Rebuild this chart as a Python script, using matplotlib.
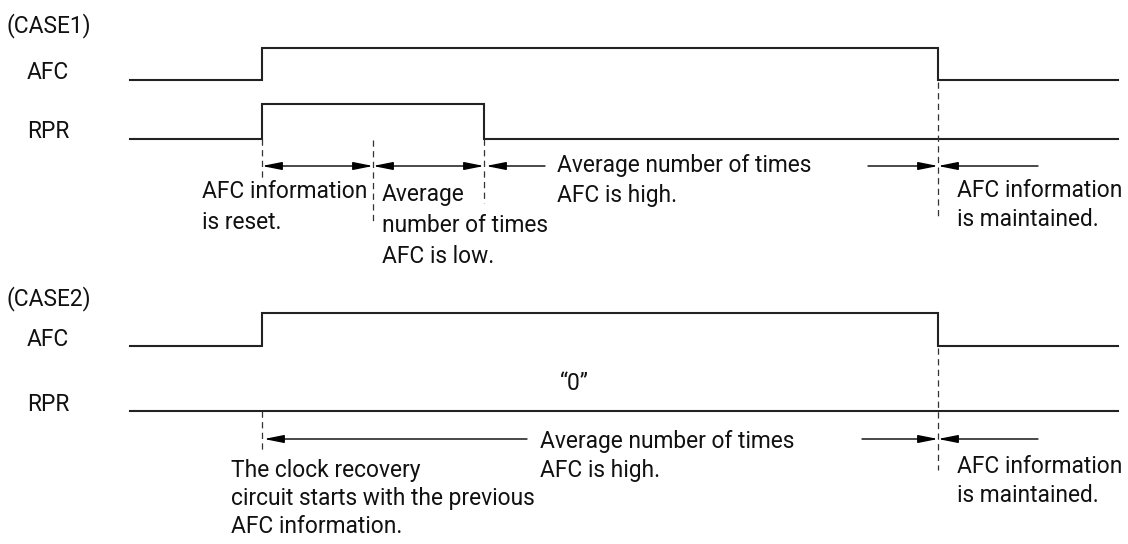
import matplotlib.pyplot as plt

plt.rcParams['font.family'] = ['Roboto', 'DejaVu Sans']

# time axis (pixel units of the drawing)
t_start, t_end = 130, 1118

# case 1 waveforms: transition times, low/high levels
afc1_edges = [262, 938]
afc1_low, afc1_high = 80, 48
rpr1_edges = [262, 484]
rpr1_low, rpr1_high = 139, 104

# case 2 waveforms
afc2_edges = [262, 938]
afc2_low, afc2_high = 346, 313
rpr2_edges = []
rpr2_low = 411

# dashed markers: (x, y0, y1)
markers = [(262, 139, 180), (373, 140, 222), (484, 139, 203), (938, 82, 220),
           (262, 411, 453), (938, 348, 470)]

# arrows: (x_from, x_to, y, style)
arrows = [(262, 373, 166, '<|-|>'), (373, 484, 166, '<|-|>'),
          (545, 486, 166, '-|>'), (868, 938, 166, '-|>'), (1038, 938, 166, '-|>'),
          (527, 264, 439, '-|>'), (862, 938, 439, '-|>'), (1038, 938, 439, '-|>')]

# text: (x, first line baseline y, line step, text)
labels = [
    (6, 32, 0, '(CASE1)'), (27, 79, 0, 'AFC'), (27, 138, 0, 'RPR'),
    (202, 198, 31, 'AFC information\nis reset.'),
    (382, 201, 31, 'Average\nnumber of times\nAFC is low.'),
    (557, 172, 30, 'Average number of times\nAFC is high.'),
    (957, 197, 29, 'AFC information\nis maintained.'),
    (6, 305, 0, '(CASE2)'), (27, 346, 0, 'AFC'), (27, 411, 0, 'RPR'),
    (560, 390, 0, '\u201c0\u201d'),
    (231, 477, 28, 'The clock recovery\ncircuit starts with the previous\nAFC information.'),
    (540, 448, 29, 'Average number of times\nAFC is high.'),
    (957, 473, 29, 'AFC information\nis maintained.'),
]


def wave(edges, low, high):
    xs = [t_start]
    ys = [low]
    level = low
    for e in edges:
        xs += [e, e]
        ys += [level, high if level == low else low]
        level = ys[-1]
    xs.append(t_end)
    ys.append(level)
    return xs, ys


fig = plt.figure(figsize=(11.28, 5.44), dpi=100)
ax = fig.add_axes([0, 0, 1, 1])
ax.set_xlim(0, 1128)
ax.set_ylim(544, 0)
ax.axis('off')

for edges, low, high in [(afc1_edges, afc1_low, afc1_high),
                         (rpr1_edges, rpr1_low, rpr1_high),
                         (afc2_edges, afc2_low, afc2_high),
                         (rpr2_edges, rpr2_low, rpr2_low)]:
    xs, ys = wave(edges, low, high)
    ax.plot(xs, ys, color='#222222', lw=1.5, solid_joinstyle='miter')

for x, y0, y1 in markers:
    ax.plot([x, x], [y0, y1], color='#333333', lw=0.9, dashes=(5, 3.5))

for x0, x1, y, st in arrows:
    ax.annotate('', xy=(x1, y), xytext=(x0, y),
                arrowprops=dict(arrowstyle=st + ',head_length=1.0,head_width=0.2',
                                color='black', lw=1.0, shrinkA=0, shrinkB=0,
                                mutation_scale=12))

for x, y, step, s in labels:
    for i, line in enumerate(s.split('\n')):
        ax.text(x, y + i * step, line, fontsize=16.4, va='baseline', ha='left',
                color='#111111')

fig.savefig('out.png', dpi=100)
